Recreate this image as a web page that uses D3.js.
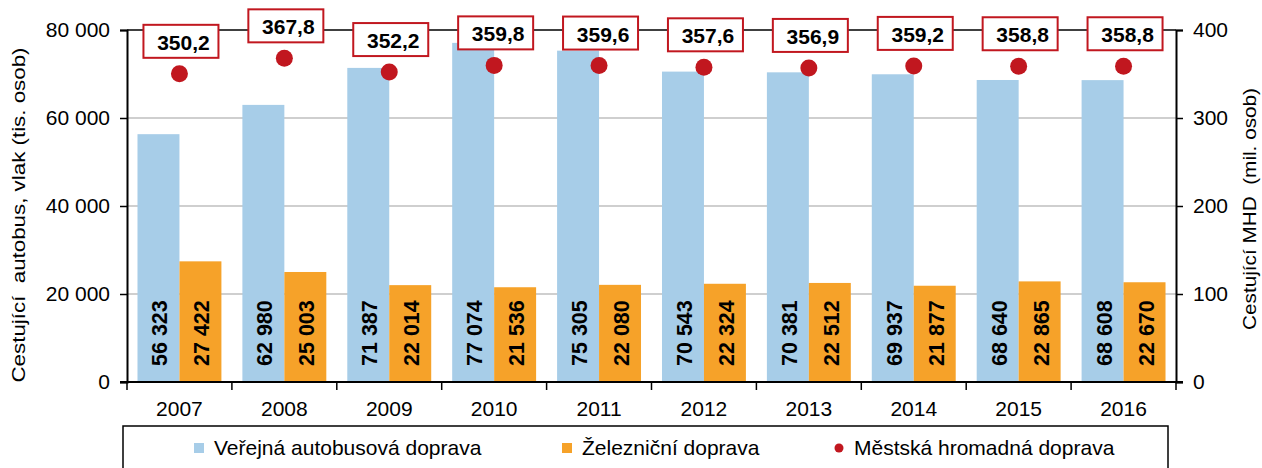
<!DOCTYPE html>
<html>
<head>
<meta charset="utf-8">
<script src="https://cdn.jsdelivr.net/npm/d3@7"></script>
<style>
  body { margin: 0; background: #fff; }
  svg { font-family: "Liberation Sans", Arial, sans-serif; }
  text { white-space: pre; }
</style>
</head>
<body>
<div id="chart"></div>
<script>
/* DATA */
const years = ["2007", "2008", "2009", "2010", "2011", "2012", "2013", "2014", "2015", "2016"];
const busValues = [56323, 62980, 71387, 77074, 75305, 70543, 70381, 69937, 68640, 68608];
const railValues = [27422, 25003, 22014, 21536, 22080, 22324, 22512, 21877, 22865, 22670];
const mhdValues = [350.2, 367.8, 352.2, 359.8, 359.6, 357.6, 356.9, 359.2, 358.8, 358.8];
const leftTicks = [0, 20000, 40000, 60000, 80000];
const rightTicks = [0, 100, 200, 300, 400];
const seriesNames = ["Veřejná autobusová doprava", "Železniční doprava", "Městská hromadná doprava"];

/* CONSTANTS */
const width = 1262, height = 468;
const margin = { top: 30, left: 127, right: 86, bottom: 86 };
const plotBottom = height - margin.bottom; // 382
const plotRight = width - margin.right;    // 1176

const blue = "#a7cde8", orange = "#f6a229", red = "#c1171f";
const fontFam = "Liberation Sans, Arial, sans-serif";

const fmt = v => d3.format(",")(v).replace(/,/g, " ");
const fmtDec = v => d3.format(".1f")(v).replace(".", ",");

const svg = d3.select("#chart").append("svg")
  .attr("width", width)
  .attr("height", height);

// scales
const xScale = d3.scaleBand()
  .domain(years)
  .range([margin.left, plotRight]);

const xInner = d3.scaleBand()
  .domain(["bus", "rail"])
  .range([0, xScale.bandwidth()])
  .paddingOuter(0.25);

const yLeft = d3.scaleLinear()
  .domain([0, 80000])
  .range([plotBottom, margin.top]);

const yRight = d3.scaleLinear()
  .domain([0, 400])
  .range([plotBottom, margin.top]);

// gridlines
svg.append("g")
  .selectAll("line")
  .data(leftTicks.filter(d => d > 0))
  .join("line")
  .attr("x1", margin.left)
  .attr("x2", plotRight)
  .attr("y1", d => yLeft(d))
  .attr("y2", d => yLeft(d))
  .attr("stroke", d => d === 80000 ? "#000" : "#bfbfbf")
  .attr("stroke-width", d => d === 80000 ? 1.5 : 1.3);

// bars
const groups = svg.append("g")
  .selectAll("g")
  .data(years.map((y, i) => ({ year: y, bus: busValues[i], rail: railValues[i] })))
  .join("g")
  .attr("transform", d => `translate(${xScale(d.year)},0)`);

groups.selectAll("rect")
  .data(d => [{ key: "bus", v: d.bus }, { key: "rail", v: d.rail }])
  .join("rect")
  .attr("x", d => xInner(d.key))
  .attr("width", xInner.bandwidth())
  .attr("y", d => yLeft(d.v))
  .attr("height", d => plotBottom - yLeft(d.v))
  .attr("fill", d => d.key === "bus" ? blue : orange);

groups.selectAll("text")
  .data(d => [{ key: "bus", v: d.bus }, { key: "rail", v: d.rail }])
  .join("text")
  .attr("transform", d => `translate(${xInner(d.key) + xInner.bandwidth() / 2 + 9},${plotBottom - 16}) rotate(-90)`)
  .attr("text-anchor", "start")
  .attr("font-size", 21.5)
  .attr("font-weight", "bold")
  .attr("fill", "#000")
  .text(d => fmt(d.v));

// left axis
const leftAxis = svg.append("g")
  .attr("transform", `translate(${margin.left},0)`)
  .call(d3.axisLeft(yLeft).tickValues(leftTicks).tickSize(7).tickPadding(10).tickFormat(fmt));
leftAxis.select(".domain").attr("stroke", "#000").attr("stroke-width", 2);
leftAxis.selectAll(".tick line").attr("stroke", "#000").attr("stroke-width", 1.5);
leftAxis.selectAll("text").attr("font-size", 21).attr("fill", "#000").attr("font-family", fontFam);

// right axis
const rightAxis = svg.append("g")
  .attr("transform", `translate(${plotRight},0)`)
  .call(d3.axisRight(yRight).tickValues(rightTicks).tickSize(7).tickPadding(10));
rightAxis.select(".domain").attr("stroke", "#000").attr("stroke-width", 2);
rightAxis.selectAll(".tick line").attr("stroke", "#000").attr("stroke-width", 1.5);
rightAxis.selectAll("text").attr("font-size", 21).attr("fill", "#000").attr("font-family", fontFam);

// bottom axis
svg.append("line")
  .attr("x1", margin.left - 7).attr("x2", plotRight + 7)
  .attr("y1", plotBottom).attr("y2", plotBottom)
  .attr("stroke", "#000").attr("stroke-width", 2);

svg.append("g")
  .selectAll("line")
  .data(years.concat(["end"]))
  .join("line")
  .attr("x1", (d, i) => margin.left + i * xScale.step())
  .attr("x2", (d, i) => margin.left + i * xScale.step())
  .attr("y1", plotBottom)
  .attr("y2", plotBottom + 8)
  .attr("stroke", "#000").attr("stroke-width", 1.5);

svg.append("g")
  .selectAll("text")
  .data(years)
  .join("text")
  .attr("x", d => xScale(d) + xScale.bandwidth() / 2)
  .attr("y", 416)
  .attr("text-anchor", "middle")
  .attr("font-size", 21)
  .text(d => d);

// MHD dots + label boxes
const mhd = svg.append("g")
  .selectAll("g")
  .data(years.map((y, i) => ({ year: y, v: mhdValues[i] })))
  .join("g")
  .attr("transform", d => `translate(${xScale(d.year) + xScale.bandwidth() / 2},${yRight(d.v)})`);

mhd.append("circle")
  .attr("r", 8.5)
  .attr("fill", red);

mhd.append("rect")
  .attr("x", -36)
  .attr("y", -49)
  .attr("width", 75)
  .attr("height", 33)
  .attr("fill", "#fff")
  .attr("stroke", red)
  .attr("stroke-width", 2);

mhd.append("text")
  .attr("x", 4)
  .attr("y", -24)
  .attr("text-anchor", "middle")
  .attr("font-size", 21)
  .attr("font-weight", "bold")
  .text(d => fmtDec(d.v));

// axis titles
svg.append("text")
  .attr("transform", `translate(25,215) rotate(-90)`)
  .attr("text-anchor", "middle")
  .attr("font-size", 19)
  .attr("textLength", 335)
  .attr("lengthAdjust", "spacingAndGlyphs")
  .text("Cestující  autobus, vlak (tis. osob)");

svg.append("text")
  .attr("transform", `translate(1256,209) rotate(-90)`)
  .attr("text-anchor", "middle")
  .attr("font-size", 19)
  .attr("textLength", 242)
  .attr("lengthAdjust", "spacingAndGlyphs")
  .text("Cestující MHD  (mil. osob)");

// legend
svg.append("rect")
  .attr("x", 123).attr("y", 426)
  .attr("width", 1045).attr("height", 60)
  .attr("fill", "#fff")
  .attr("stroke", "#000").attr("stroke-width", 1.5);

const legendX = [194, 562, 834];
const legend = svg.append("g")
  .selectAll("g")
  .data(seriesNames)
  .join("g")
  .attr("transform", (d, i) => `translate(${legendX[i]},448)`);

legend.each(function(d, i) {
  const g = d3.select(this);
  if (i < 2) {
    g.append("rect").attr("x", 0).attr("y", -5).attr("width", 10).attr("height", 10)
      .attr("fill", i === 0 ? blue : orange);
  } else {
    g.append("circle").attr("cx", 5).attr("cy", 0).attr("r", 4.5).attr("fill", red);
  }
  g.append("text")
    .attr("x", 20)
    .attr("y", 7)
    .attr("font-size", 21)
    .text(d);
});
</script>
</body>
</html>
